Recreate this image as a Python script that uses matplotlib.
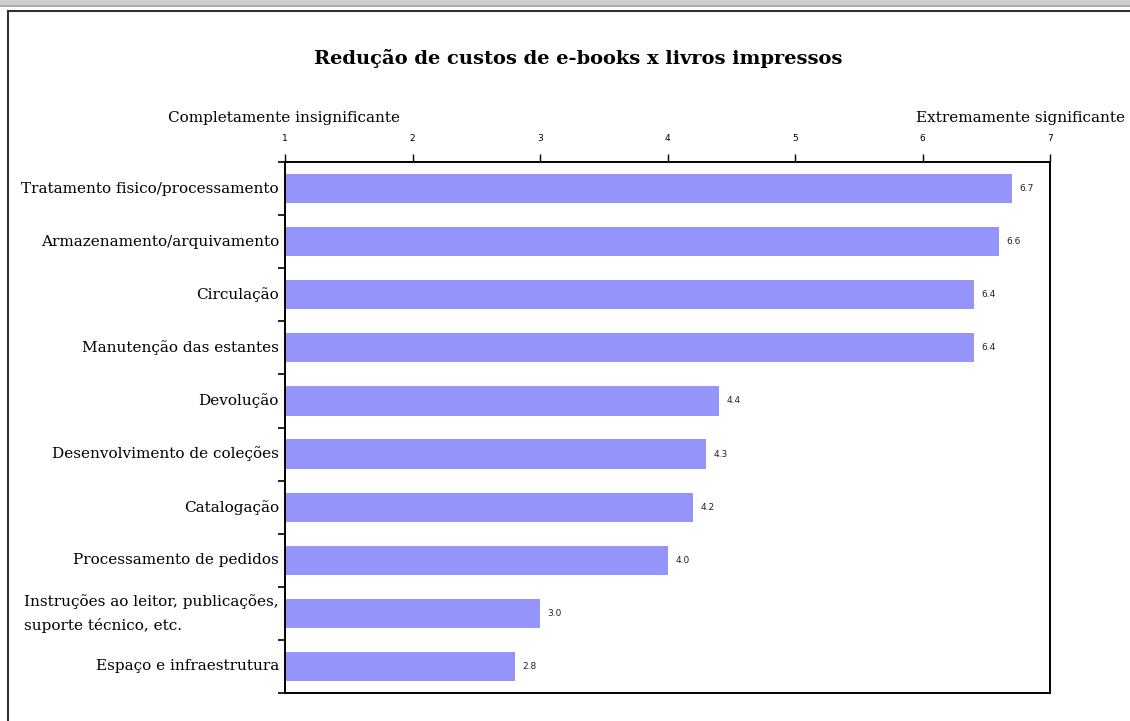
import matplotlib.pyplot as plt
from matplotlib.patches import Rectangle
from matplotlib.lines import Line2D
import numpy as np

categories = ["Tratamento fisico/processamento", "Armazenamento/arquivamento",
              "Circulação", "Manutenção das estantes", "Devolução",
              "Desenvolvimento de coleções", "Catalogação", "Processamento de pedidos",
              "Instruções ao leitor, publicações,\nsuporte técnico, etc.",
              "Espaço e infraestrutura"]
values = [6.7, 6.6, 6.4, 6.4, 4.4, 4.3, 4.2, 4.0, 3.0, 2.8]
xticks = [1, 2, 3, 4, 5, 6, 7]

W, H = 1130, 721
fig = plt.figure(figsize=(W / 100, H / 100), dpi=100)
fig.patch.set_facecolor("white")

# window chrome at the top + outer frame
fig.patches.append(Rectangle((0, 1 - 7 / H), 1, 7 / H, transform=fig.transFigure,
                             facecolor="#d0d0d0", edgecolor="none"))
fig.lines.append(Line2D([0, 1], [1 - 6 / H, 1 - 6 / H], transform=fig.transFigure,
                        color="#a8a8a8", lw=1.2))
fig.lines.append(Line2D([8 / W, 1], [1 - 11 / H, 1 - 11 / H], transform=fig.transFigure,
                        color="#333333", lw=1.5))
fig.lines.append(Line2D([8 / W, 8 / W], [0, 1 - 11 / H], transform=fig.transFigure,
                        color="#333333", lw=1.5))

ax = fig.add_axes([285 / W, 1 - 693 / H, (1050 - 285) / W, (693 - 162) / H])

y = np.arange(len(categories))
ax.barh(y, [v - 1 for v in values], left=1, height=0.55, color="#9494FA", edgecolor="none")
for yi, v in zip(y, values):
    ax.text(v + 0.06, yi, f"{v:.1f}", va="center", ha="left", fontsize=6.5,
            family="DejaVu Sans", color="#222222")

ax.set_xlim(1, 7)
ax.set_ylim(len(categories) - 0.5, -0.5)
ax.xaxis.tick_top()
ax.set_xticks(xticks)
ax.set_xticklabels([str(t) for t in xticks], fontsize=6.5, family="DejaVu Sans")
ax.tick_params(axis="x", direction="out", length=6, width=1, pad=8)

ax.set_yticks(y)
ax.set_yticklabels([])
ax.set_yticks(np.arange(-0.5, len(categories), 1), minor=True)
ax.tick_params(axis="y", which="major", length=0)
ax.tick_params(axis="y", which="minor", direction="out", length=5, width=1.2)
for yi, c in zip(y, categories):
    ax.text(-0.008, yi, c, transform=ax.get_yaxis_transform(), ha="right", va="center",
            fontsize=11, family="DejaVu Serif", multialignment="left", linespacing=1.75)

for s in ax.spines.values():
    s.set_linewidth(1.4)
    s.set_color("black")

fig.text(578 / W, 1 - 58 / H, "Redução de custos de e-books x livros impressos",
         ha="center", va="center", fontsize=14, fontweight="bold", family="DejaVu Serif")
fig.text(284 / W, 1 - 118 / H, "Completamente insignificante", ha="center", va="center",
         fontsize=11, family="DejaVu Serif")
fig.text(1021 / W, 1 - 118 / H, "Extremamente significante", ha="center", va="center",
         fontsize=11, family="DejaVu Serif")

fig.savefig("out.png", dpi=100)
